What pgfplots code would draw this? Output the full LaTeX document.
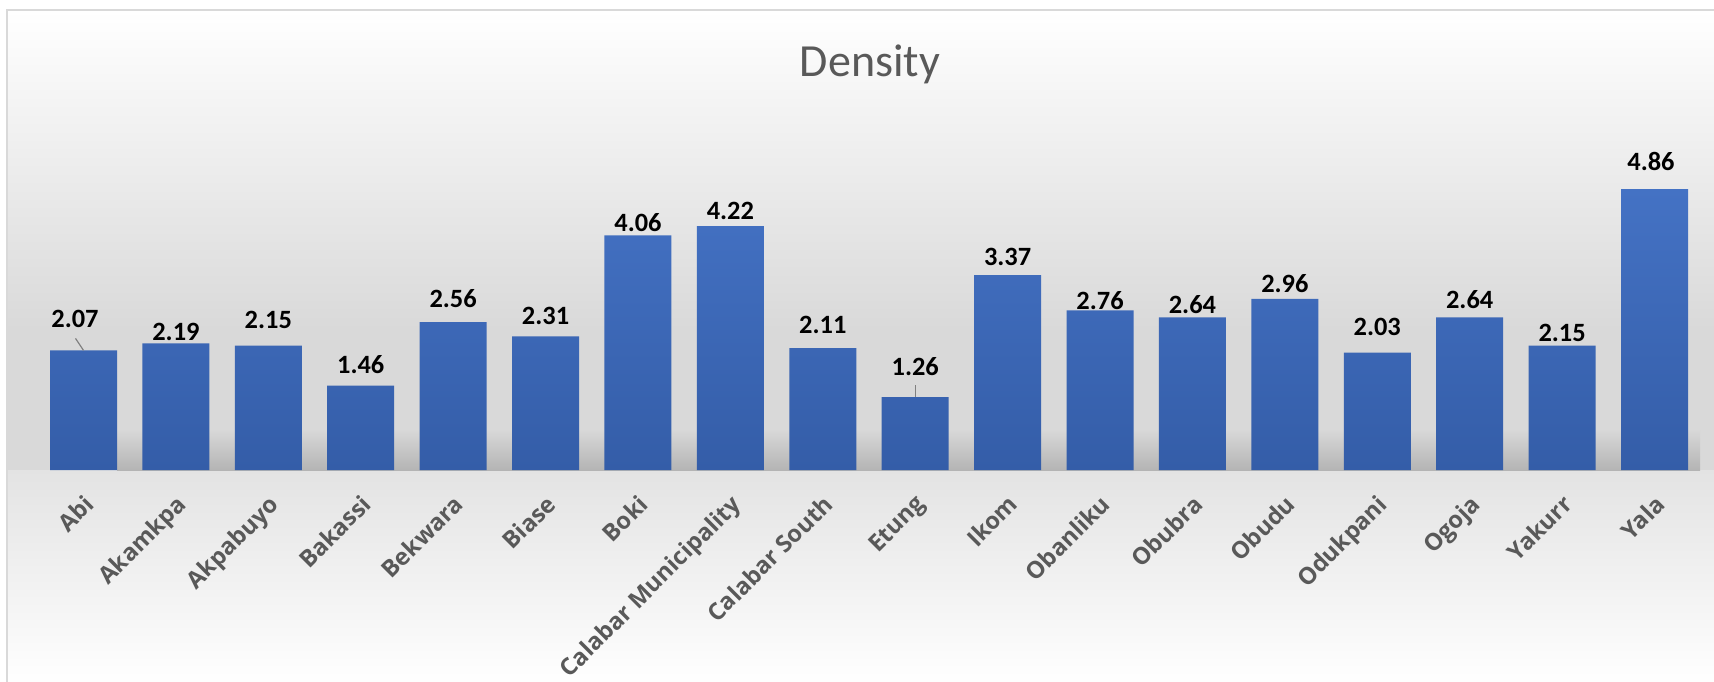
\documentclass[border=0pt]{standalone}
\usepackage{pgfplots}
\pgfplotsset{compat=1.18}
\usepackage{pgfplotstable}
\usepackage{fontspec}
\setmainfont{Carlito}
\newfontfamily\tickfont{Open Sans}
\definecolor{barTop}{HTML}{4472C4}
\definecolor{barBot}{HTML}{345DA8}
\definecolor{txtgray}{HTML}{595959}
\definecolor{bgGray}{HTML}{D9D9D9}
\definecolor{bgLow}{HTML}{E3E3E3}
\definecolor{frameGray}{HTML}{D9D9D9}
\definecolor{shadowGray}{HTML}{B4B4B4}

\pgfplotstableread{
x y lab off dx
0 2.07 2.07 31 -8.5
1 2.19 2.19 11 0
2 2.15 2.15 26 0
3 1.46 1.46 21 0
4 2.56 2.56 23 0
5 2.31 2.31 21 0
6 4.06 4.06 13 0
7 4.22 4.22 15 0
8 2.11 2.11 23 0
9 1.26 1.26 31 0
10 3.37 3.37 18 0
11 2.76 2.76 10 0
12 2.64 2.64 13 0
13 2.96 2.96 15 0
14 2.03 2.03 26 0
15 2.64 2.64 18 0
16 2.15 2.15 13 0
17 4.86 4.86 28 -3.5
}\datatable

\begin{document}
\begin{tikzpicture}
\useasboundingbox (0,0) rectangle (857pt,340.5pt);
\begin{scope}
\clip (0,0) rectangle (857pt,340.5pt);
\shade[top color=white, bottom color=bgGray] (3.5pt,175.5pt) rectangle (870pt,335.5pt);
\fill[bgGray] (3.5pt,105.5pt) rectangle (870pt,175.6pt);
\shade[top color=bgLow, bottom color=white] (3.5pt,-2pt) rectangle (870pt,105.5pt);
\shade[top color=bgGray, bottom color=shadowGray] (58.5pt,105.5pt) rectangle (850pt,126pt);
\draw[frameGray, line width=0.75pt] (3.5pt,335.5pt) rectangle (880pt,-10pt);
\end{scope}
\node[anchor=base, font=\fontsize{23}{27}\selectfont, text=txtgray] at (435pt,302pt) {Density};
\begin{axis}[
  at={(18.65pt,105.5pt)}, anchor=south west,
  scale only axis, width=831.7pt, height=161.84pt,
  xmin=-0.5, xmax=17.5, ymin=0, ymax=5.6,
  axis line style={draw=none}, ytick=\empty,
  xtick={0,...,17},
  xticklabels={Abi,Akamkpa,Akpabuyo,Bakassi,Bekwara,Biase,Boki,Calabar Municipality,Calabar South,Etung,Ikom,Obanliku,Obubra,Obudu,Odukpani,Ogoja,Yakurr,Yala},
  major tick length=0pt,
  xticklabel style={font=\tickfont\bfseries\fontsize{11.8}{13}\selectfont, text=txtgray, inner sep=0pt, xshift=-0.5pt, yshift=-11.5pt, rotate=45, anchor=north east},
  clip=false,
]
\addplot[ybar, bar width=33.5pt, draw=none, top color=barTop, bottom color=barBot,
  point meta=explicit symbolic,
  visualization depends on={\thisrow{off} \as \offv},
  visualization depends on={\thisrow{dx} \as \dxv},
  nodes near coords,
  nodes near coords style={font=\bfseries\fontsize{13.2}{15}\selectfont, text=black, anchor=center, yshift={0.5*\offv*1pt}, xshift={0.5*\dxv*1pt}, inner sep=0pt},
] table[x=x, y=y, meta=lab] {\datatable};
\draw[gray, line width=0.6pt] (axis cs:0,2.07) -- ++(-4pt,6pt);
\draw[gray, line width=0.6pt] (axis cs:9,1.26) -- ++(0pt,6pt);
\end{axis}
\end{tikzpicture}
\end{document}
